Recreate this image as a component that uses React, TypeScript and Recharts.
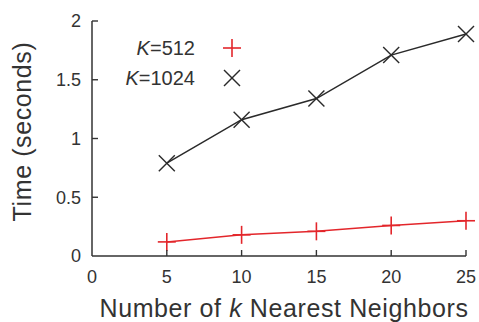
import React from 'react';
import { LineChart, Line, XAxis, YAxis, Legend } from 'recharts';

const neighbors = [5, 10, 15, 20, 25];
const timeK512 = [0.12, 0.18, 0.21, 0.26, 0.3];
const timeK1024 = [0.79, 1.16, 1.34, 1.71, 1.89];
const xTicks = [0, 5, 10, 15, 20, 25];
const yTicks = [0, 0.5, 1, 1.5, 2];
const seriesNames = ['512', '1024'];

const data = neighbors.map((k, i) => ({ k, a: timeK512[i], b: timeK1024[i] }));

const RED = '#e3262b';
const DARK = '#2a2a2a';
const TXT = '#333';
const FONT = '"Liberation Sans", Arial, Helvetica, sans-serif';

const Plus = (props: any) => {
  const { cx, cy } = props;
  if (cx == null || cy == null) return null;
  const h = 9;
  return (
    <g stroke={RED} strokeWidth={1.6}>
      <line x1={cx - h} y1={cy} x2={cx + h} y2={cy} />
      <line x1={cx} y1={cy - h} x2={cx} y2={cy + h} />
    </g>
  );
};

const Cross = (props: any) => {
  const { cx, cy } = props;
  if (cx == null || cy == null) return null;
  const h = 8;
  return (
    <g stroke={DARK} strokeWidth={1.4}>
      <line x1={cx - h} y1={cy - h} x2={cx + h} y2={cy + h} />
      <line x1={cx - h} y1={cy + h} x2={cx + h} y2={cy - h} />
    </g>
  );
};

const XTick = (props: any) => {
  const { x, y, payload } = props;
  const axisY = y - 14;
  return (
    <g>
      {payload.value !== 0 && (
        <line x1={x} y1={axisY} x2={x} y2={axisY - 6} stroke={TXT} strokeWidth={1.4} />
      )}
      <text x={x} y={y} dy="0.71em" textAnchor="middle" fill={TXT} fontSize={18} fontFamily={FONT}>
        {payload.value}
      </text>
    </g>
  );
};

const YTick = (props: any) => {
  const { x, y, payload } = props;
  const axisX = x + 11;
  return (
    <g>
      {payload.value !== 0 && (
        <line x1={axisX} y1={y} x2={axisX + 6} y2={y} stroke={TXT} strokeWidth={1.4} />
      )}
      <text x={x} y={y} dy="0.36em" textAnchor="end" fill={TXT} fontSize={18} fontFamily={FONT}>
        {payload.value}
      </text>
    </g>
  );
};

const LegendContent = () => (
  <svg width={170} height={70} style={{ display: 'block' }}>
    <text x={95} y={25} textAnchor="end" fill={TXT} fontSize={20} fontFamily={FONT}>
      <tspan fontStyle="italic">K</tspan>={seriesNames[0]}
    </text>
    <g stroke={RED} strokeWidth={1.6}>
      <line x1={123} y1={18} x2={141} y2={18} />
      <line x1={132} y1={9} x2={132} y2={27} />
    </g>
    <text x={95} y={55} textAnchor="end" fill={TXT} fontSize={20} fontFamily={FONT}>
      <tspan fontStyle="italic">K</tspan>={seriesNames[1]}
    </text>
    <g stroke={DARK} strokeWidth={1.4}>
      <line x1={124} y1={40} x2={140} y2={56} />
      <line x1={124} y1={56} x2={140} y2={40} />
    </g>
  </svg>
);

const XTitle = (props: any) => {
  const { viewBox } = props;
  const cx = viewBox.x + viewBox.width / 2 + 5;
  return (
    <text x={cx} y={317} textAnchor="middle" fill={TXT} fontSize={25} fontFamily={FONT} letterSpacing={0.6}>
      Number of <tspan fontStyle="italic">k</tspan> Nearest Neighbors
    </text>
  );
};

const YTitle = (props: any) => {
  const { viewBox } = props;
  const cy = viewBox.y + viewBox.height / 2 - 7;
  const cx = 31;
  return (
    <text x={cx} y={cy} transform={`rotate(-90 ${cx} ${cy})`} textAnchor="middle" fill={TXT} fontSize={25} fontFamily={FONT} letterSpacing={0.6}>
      Time (seconds)
    </text>
  );
};

export default function App() {
  return (
    <div style={{ position: 'absolute', left: 0, top: 0, width: 479, height: 322, background: '#fff' }}>
      <LineChart width={479} height={322} data={data} margin={{ top: 21, right: 13, left: 0, bottom: 0 }}>
        <XAxis
          dataKey="k"
          type="number"
          domain={[0, 25]}
          ticks={xTicks}
          height={66}
          tickSize={0}
          tickMargin={14}
          tick={<XTick />}
          tickLine={false}
          axisLine={{ stroke: TXT, strokeWidth: 1.5 }}
          label={<XTitle />}
        />
        <YAxis
          type="number"
          domain={[0, 2]}
          ticks={yTicks}
          width={92}
          tickSize={0}
          tickMargin={11}
          tick={<YTick />}
          tickLine={false}
          axisLine={{ stroke: TXT, strokeWidth: 1.5 }}
          label={<YTitle />}
        />
        <Legend
          layout="horizontal"
          verticalAlign="middle"
          align="center"
          content={<LegendContent />}
          wrapperStyle={{ position: 'absolute', left: 100, top: 30, width: 170, height: 70 }}
        />
        <Line
          dataKey="a"
          name="K=512"
          stroke={RED}
          strokeWidth={1.5}
          dot={<Plus />}
          activeDot={false}
          isAnimationActive={false}
        />
        <Line
          dataKey="b"
          name="K=1024"
          stroke={DARK}
          strokeWidth={1.5}
          dot={<Cross />}
          activeDot={false}
          isAnimationActive={false}
        />
      </LineChart>
    </div>
  );
}
